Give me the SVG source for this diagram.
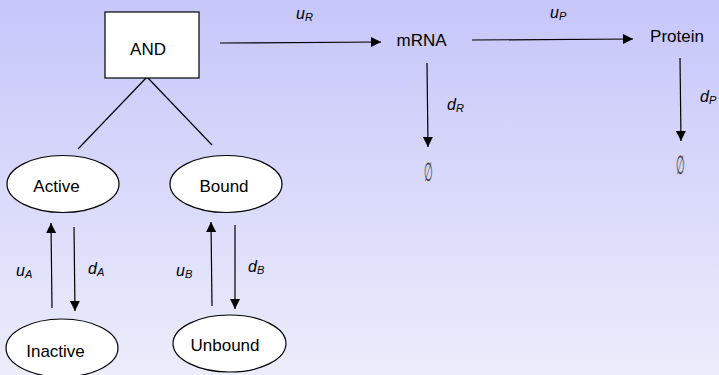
<svg xmlns="http://www.w3.org/2000/svg" width="719" height="375" viewBox="0 0 719 375">
<defs>
<linearGradient id="bg" x1="0" y1="0" x2="0" y2="1">
<stop offset="0" stop-color="#c6c6fa"/>
<stop offset="1" stop-color="#ececfb"/>
</linearGradient>
<marker id="ah" viewBox="0 0 10 10" refX="10" refY="5" markerWidth="10" markerHeight="10" markerUnits="userSpaceOnUse" orient="auto">
<path d="M0,0 L10,5 L0,10 Z" fill="#000"/>
</marker>
</defs>
<style>
.node{fill:#fff;stroke:#000;stroke-width:1.2}
.lbl{font-family:"Liberation Sans",Arial,sans-serif;font-size:17px;fill:#000;text-anchor:middle}
.rate{font-family:"Liberation Sans",Arial,sans-serif;font-size:16px;font-style:italic;fill:#000}
.sub{font-size:11px}
.empty{font-family:"DejaVu Sans","Liberation Sans",sans-serif;font-size:20px;font-weight:200;fill:#444;text-anchor:middle}
.edge{stroke:#000;stroke-width:1.2;fill:none}
.arr{stroke:#000;stroke-width:1.2;fill:none;marker-end:url(#ah)}
</style>
<rect width="719" height="375" fill="url(#bg)"/>
<g id="connectors">
<line class="edge" x1="147" y1="77" x2="78" y2="149"/>
<line class="edge" x1="147" y1="77" x2="212" y2="145"/>
<line class="arr" x1="220" y1="43" x2="381" y2="42"/>
<line class="arr" x1="472" y1="40" x2="633" y2="39"/>
<line class="arr" x1="427" y1="63" x2="428" y2="147"/>
<line class="arr" x1="680" y1="58" x2="681" y2="141"/>
<line class="arr" x1="52" y1="308" x2="51" y2="223"/>
<line class="arr" x1="74" y1="227" x2="75" y2="311"/>
<line class="arr" x1="212" y1="306" x2="211" y2="222"/>
<line class="arr" x1="235" y1="225" x2="235" y2="309"/>
<text class="rate" x="296" y="19">u<tspan class="sub" dy="2">R</tspan></text>
<text class="rate" x="550" y="18">u<tspan class="sub" dy="2">P</tspan></text>
<text class="rate" x="447" y="110">d<tspan class="sub" dy="2">R</tspan></text>
<text class="rate" x="700" y="102">d<tspan class="sub" dy="2">P</tspan></text>
<text class="rate" x="16" y="276">u<tspan class="sub" dy="2">A</tspan></text>
<text class="rate" x="88" y="274">d<tspan class="sub" dy="2">A</tspan></text>
<text class="rate" x="176" y="276">u<tspan class="sub" dy="2">B</tspan></text>
<text class="rate" x="248" y="272">d<tspan class="sub" dy="2">B</tspan></text>
</g>
<g id="and">
<rect class="node" x="105" y="12" width="94" height="66"/>
<text class="lbl" x="148" y="55">AND</text>
</g>
<g id="mrna">
<text class="lbl" x="421.5" y="46">mRNA</text>
</g>
<g id="protein">
<text class="lbl" x="677" y="42">Protein</text>
</g>
<g id="empty-r"><text class="empty" transform="translate(428,181) scale(0.5,1.3)" x="0" y="0">∅</text></g>
<g id="empty-p"><text class="empty" transform="translate(680,174) scale(0.5,1.3)" x="0" y="0">∅</text></g>
<g id="active">
<ellipse class="node" cx="63" cy="184" rx="56" ry="28.5"/>
<text class="lbl" x="56.5" y="192">Active</text>
</g>
<g id="bound">
<ellipse class="node" cx="226" cy="184" rx="56" ry="28.5"/>
<text class="lbl" x="224" y="192">Bound</text>
</g>
<g id="inactive">
<ellipse class="node" cx="62" cy="348" rx="56" ry="29"/>
<text class="lbl" x="55.5" y="357">Inactive</text>
</g>
<g id="unbound">
<ellipse class="node" cx="229.5" cy="343.5" rx="56.5" ry="28.5"/>
<text class="lbl" x="225" y="351">Unbound</text>
</g>
</svg>
